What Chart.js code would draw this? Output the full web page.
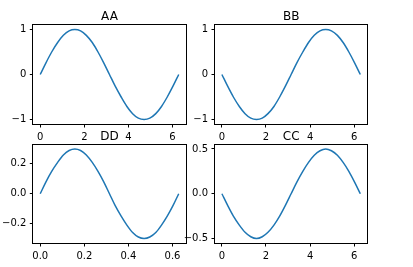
<!DOCTYPE html>
<html>
<head>
<meta charset="utf-8">
<script src="https://cdn.jsdelivr.net/npm/chart.js@4.4.1/dist/chart.umd.min.js"></script>
<style>
  html, body { margin: 0; padding: 0; background: #fff; }
  #wrap { position: relative; width: 413px; height: 267px; }
  #wrap canvas { position: absolute; left: 0; top: 0; }
</style>
</head>
<body>
<div id="wrap">
  <canvas id="c-aa" width="413" height="267"></canvas>
  <canvas id="c-bb" width="413" height="267"></canvas>
  <canvas id="c-dd" width="413" height="267"></canvas>
  <canvas id="c-cc" width="413" height="267"></canvas>
</div>
<script>
// x samples (0 .. 2pi)
const xFull = [0, 0.26, 0.52, 0.79, 1.05, 1.31, 1.57, 1.83, 2.09, 2.36, 2.62, 2.88, 3.14,
  3.40, 3.67, 3.93, 4.19, 4.45, 4.71, 4.97, 5.24, 5.50, 5.76, 6.02, 6.28];
const xShort = [0, 0.026, 0.052, 0.079, 0.105, 0.131, 0.157, 0.183, 0.209, 0.236, 0.262, 0.288, 0.314,
  0.340, 0.367, 0.393, 0.419, 0.445, 0.471, 0.497, 0.524, 0.550, 0.576, 0.602, 0.628];

const aaValues = [0, 0.26, 0.5, 0.71, 0.87, 0.97, 1, 0.97, 0.87, 0.71, 0.5, 0.26, 0,
  -0.26, -0.5, -0.71, -0.87, -0.97, -1, -0.97, -0.87, -0.71, -0.5, -0.26, 0];
const bbValues = [0, -0.26, -0.5, -0.71, -0.87, -0.97, -1, -0.97, -0.87, -0.71, -0.5, -0.26, 0,
  0.26, 0.5, 0.71, 0.87, 0.97, 1, 0.97, 0.87, 0.71, 0.5, 0.26, 0];
const ddValues = [0, 0.08, 0.15, 0.21, 0.26, 0.29, 0.3, 0.29, 0.26, 0.21, 0.15, 0.08, 0,
  -0.08, -0.15, -0.21, -0.26, -0.29, -0.3, -0.29, -0.26, -0.21, -0.15, -0.08, 0];
const ccValues = [0, -0.13, -0.25, -0.35, -0.43, -0.48, -0.5, -0.48, -0.43, -0.35, -0.25, -0.13, 0,
  0.13, 0.25, 0.35, 0.43, 0.48, 0.5, 0.48, 0.43, 0.35, 0.25, 0.13, 0];

// tick values and their labels
const xTicksFull = [0, 2, 4, 6];
const xLabelsFull = ['0', '2', '4', '6'];
const xTicksShort = [0, 0.2, 0.4, 0.6];
const xLabelsShort = ['0.0', '0.2', '0.4', '0.6'];
const yTicksOne = [-1, 0, 1];
const yLabelsOne = ['\u22121', '0', '1'];
const yTicksDD = [-0.2, 0, 0.2];
const yLabelsDD = ['\u22120.2', '0.0', '0.2'];
const yTicksCC = [-0.5, 0, 0.5];
const yLabelsCC = ['\u22120.5', '0.0', '0.5'];

Chart.defaults.font.family = '"DejaVu Sans", sans-serif';
Chart.defaults.font.size = 10;
Chart.defaults.color = '#000';

// full axes frame like matplotlib spines, plus a title centred on the plot area
const frame = {
  id: 'frame',
  afterDatasetsDraw(chart, args, opts) {
    const a = chart.chartArea;
    const c = chart.ctx;
    c.save();
    c.strokeStyle = '#000';
    c.lineWidth = 1;
    const l = Math.round(a.left) - 0.5, t = Math.round(a.top) - 0.5;
    const r = Math.round(a.right) + 0.5, b = Math.round(a.bottom) + 0.5;
    c.strokeRect(l, t, r - l, b - t);
    if (opts.title) {
      c.fillStyle = '#000';
      c.font = '12px "DejaVu Sans", sans-serif';
      c.textAlign = 'center';
      c.textBaseline = 'alphabetic';
      c.fillText(opts.title, (a.left + a.right) / 2, a.top - 5);
    }
    c.restore();
  }
};

function axis(min, max, ticks, labels, fitFn) {
  return {
    type: 'linear',
    min: min,
    max: max,
    afterBuildTicks: s => { s.ticks = ticks.map(v => ({ value: v })); },
    afterFit: fitFn,
    border: { display: false },
    grid: { drawOnChartArea: false, drawTicks: true, tickLength: 3.5, color: '#000' },
    ticks: {
      autoSkip: false, maxRotation: 0, padding: 3.5,
      callback: v => { const i = ticks.indexOf(v); return i >= 0 ? labels[i] : ''; }
    }
  };
}

function makePlot(id, title, xs, ys, box, xr, yr, xt, xl, yt, yl) {
  // box = axes rectangle [left, top, right, bottom] in page pixels
  const yW = 40, xH = 20;
  new Chart(document.getElementById(id), {
    type: 'line',
    data: {
      datasets: [{
        data: xs.map((x, i) => ({ x: x, y: ys[i] })),
        borderColor: '#1f77b4',
        borderWidth: 1.5,
        pointRadius: 0,
        cubicInterpolationMode: 'monotone',
        fill: false
      }]
    },
    options: {
      responsive: false,
      animation: false,
      events: [],
      layout: {
        padding: { left: box[0] - yW, top: box[1], right: 413 - box[2], bottom: 267 - box[3] - xH }
      },
      plugins: {
        legend: { display: false },
        tooltip: { enabled: false },
        title: { display: false },
        frame: { title: title }
      },
      scales: {
        x: axis(xr[0], xr[1], xt, xl, s => { s.height = xH; }),
        y: axis(yr[0], yr[1], yt, yl, s => { s.width = yW; })
      }
    },
    plugins: [frame]
  });
}

makePlot('c-aa', 'AA', xFull, aaValues, [33.3, 25, 185.7, 124], [-0.314, 6.597], [-1.1, 1.1],
  xTicksFull, xLabelsFull, yTicksOne, yLabelsOne);
makePlot('c-bb', 'BB', xFull, bbValues, [215, 25, 367.3, 124], [-0.314, 6.597], [-1.1, 1.1],
  xTicksFull, xLabelsFull, yTicksOne, yLabelsOne);
makePlot('c-dd', 'DD', xShort, ddValues, [33.3, 144.5, 185.7, 243], [-0.0314, 0.6597], [-0.33, 0.33],
  xTicksShort, xLabelsShort, yTicksDD, yLabelsDD);
makePlot('c-cc', 'CC', xFull, ccValues, [215, 144.5, 367.3, 243], [-0.314, 6.597], [-0.55, 0.55],
  xTicksFull, xLabelsFull, yTicksCC, yLabelsCC);
</script>
</body>
</html>
